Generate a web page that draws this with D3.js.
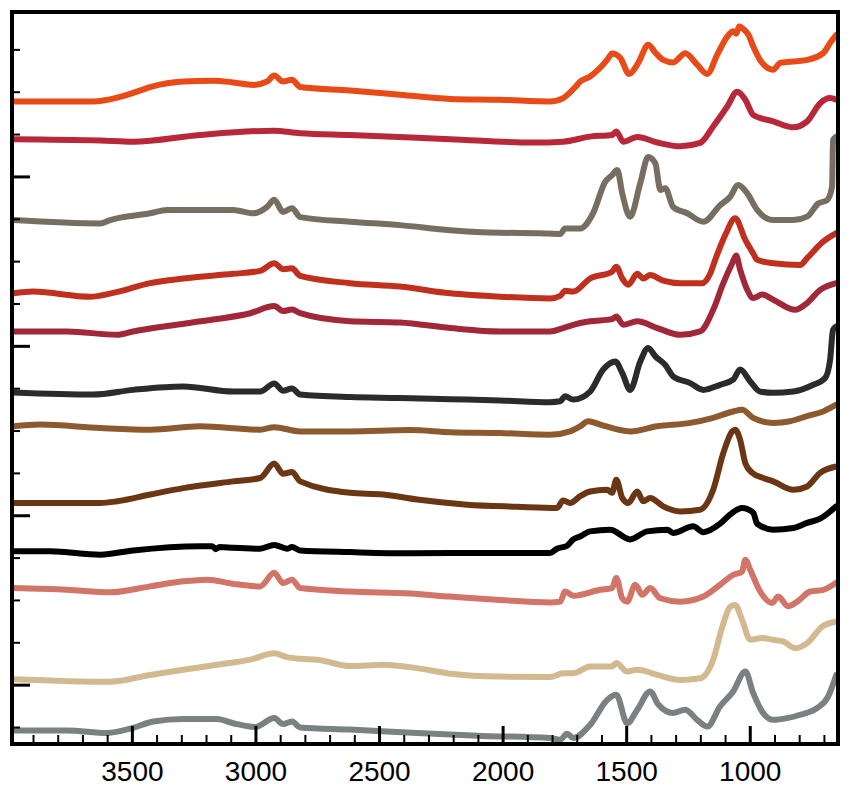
<!DOCTYPE html>
<html>
<head>
<meta charset="utf-8">
<script src="https://cdn.jsdelivr.net/npm/d3@7/dist/d3.min.js"></script>
<style>
body{margin:0;background:#fff}
svg{display:block}
</style>
</head>
<body>
<div id="chart"></div>
<script>
// stacked IR spectra, x = wavenumber (cm-1, reversed), y = absorbance + offset

const xLabelTicks=[3500,3000,2500,2000,1500,1000];
const xMinorTicks=[3900,3800,3700,3600,3400,3300,3200,3100,2900,2800,2700,2600,2400,2300,2200,2100,
  1900,1800,1700,1600,1400,1300,1200,1100,900,800,700];
const yMajorTicks=[0,0.4,0.8,1.2];
const yMinorTicks=[-0.1,0.1,0.2,0.3,0.5,0.6,0.7,0.9,1.0,1.1,1.3,1.4,1.5];

const offsets=[1.377,1.288,1.097,0.924,0.834,0.690,0.610,0.429,0.315,0.228,0.013,-0.108];
const colors=["#e84a18","#b8283a","#776e62","#c0301f","#a02839","#2b2b2b",
  "#8c5a2e","#6a3613","#000000","#d07568","#d3b98f","#7a8182"];

const spec1=[[3980,0],[3657,0],[3559,0.009],[3495,0.020],[3426,0.034],[3357,0.043],[3292,0.047],
  [3171,0.049],[3090,0.045],[3009,0.039],[2953,0.047],[2924,0.061],[2888,0.047],[2852,0.051],
  [2819,0.034],[2617,0.026],[2415,0.016],[2212,0.006],[2010,0.004],[1808,0],[1755,0.008],
  [1706,0.034],[1686,0.047],[1646,0.059],[1577,0.098],[1557,0.113],[1524,0.103],[1488,0.065],
  [1451,0.091],[1411,0.134],[1382,0.115],[1350,0.098],[1310,0.092],[1261,0.114],[1213,0.087],
  [1172,0.065],[1132,0.110],[1091,0.153],[1067,0.166],[1055,0.160],[1043,0.177],[1020,0.168],
  [1006,0.158],[986,0.130],[950,0.091],[905,0.075],[877,0.091],[768,0.098],[703,0.114],
  [675,0.138],[650,0.157]];

const spec2=[[3980,0],[3628,-0.003],[3495,-0.006],[3224,0.010],[2928,0.020],[2819,0.014],
  [2617,0.010],[2212,0],[1876,-0.008],[1755,-0.006],[1646,0.006],[1557,0.010],[1540,0.018],
  [1512,-0.006],[1455,0.005],[1374,-0.008],[1281,-0.017],[1201,-0.009],[1148,0.030],[1091,0.077],
  [1051,0.112],[1018,0.093],[986,0.057],[905,0.042],[824,0.028],[768,0.042],[715,0.085],
  [675,0.097],[650,0.093]];

const spec3=[[3980,0],[3628,-0.008],[3588,0],[3426,0.016],[3357,0.024],[3090,0.024],[3009,0.016],
  [2953,0.031],[2924,0.048],[2888,0.019],[2852,0.028],[2819,0.007],[2617,-0.004],[2415,-0.012],
  [2212,-0.024],[2010,-0.030],[1848,-0.031],[1767,-0.033],[1747,-0.020],[1686,-0.020],[1634,0.016],
  [1585,0.090],[1557,0.106],[1536,0.118],[1516,0.063],[1484,0.008],[1443,0.087],[1411,0.149],
  [1382,0.134],[1362,0.071],[1342,0.075],[1310,0.031],[1253,0.016],[1188,-0.004],[1120,0.035],
  [1079,0.055],[1047,0.083],[1010,0.063],[970,0.024],[905,0],[824,0],[768,0.008],[723,0.039],
  [687,0.047],[667,0.079],[663,0.189],[650,0.197]];

const spec4=[[3980,0],[3899,0.004],[3669,-0.008],[3576,0.001],[3426,0.024],[3292,0.035],[3090,0.046],
  [2981,0.053],[2924,0.071],[2888,0.057],[2852,0.059],[2819,0.041],[2617,0.024],[2415,0.016],
  [2212,0],[2010,-0.008],[1808,-0.012],[1767,-0.006],[1747,0.006],[1714,0.004],[1646,0.035],
  [1557,0.051],[1540,0.063],[1516,0.035],[1492,0.020],[1455,0.046],[1431,0.035],[1403,0.043],
  [1350,0.030],[1281,0.024],[1193,0.024],[1160,0.047],[1140,0.079],[1099,0.138],[1059,0.177],
  [1018,0.126],[986,0.094],[970,0.079],[905,0.071],[796,0.067],[768,0.083],[703,0.122],[650,0.142]];

const spec5=[[3980,0],[3762,0],[3559,-0.008],[3495,0],[3357,0.013],[3171,0.028],[3021,0.043],
  [2924,0.060],[2888,0.048],[2852,0.052],[2819,0.043],[2617,0.024],[2415,0.021],[2212,0.008],
  [2010,0],[1808,0],[1755,0.008],[1686,0.020],[1646,0.024],[1557,0.029],[1540,0.035],[1512,0.016],
  [1455,0.024],[1374,0.008],[1281,-0.008],[1201,0],[1148,0.051],[1107,0.114],[1071,0.161],
  [1055,0.179],[1039,0.146],[1010,0.098],[986,0.079],[950,0.087],[905,0.075],[816,0.051],
  [768,0.067],[715,0.098],[650,0.114]];

const spec6=[[3980,0],[3657,-0.005],[3495,0.006],[3292,0.014],[3090,0.002],[2981,0.002],[2924,0.021],
  [2888,0.004],[2852,0.009],[2819,-0.005],[2617,-0.011],[2415,-0.013],[2212,-0.016],[2010,-0.019],
  [1808,-0.023],[1767,-0.021],[1747,-0.009],[1714,-0.017],[1646,0.002],[1593,0.054],[1544,0.073],
  [1516,0.046],[1484,0.006],[1443,0.073],[1411,0.105],[1382,0.085],[1342,0.065],[1310,0.038],
  [1241,0.022],[1188,0.006],[1120,0.018],[1067,0.030],[1039,0.054],[998,0.026],[958,0.002],
  [905,-0.001],[824,0.002],[743,0.018],[695,0.034],[675,0.077],[663,0.148],[650,0.156]];

const spec7=[[3980,0],[3871,0.004],[3628,-0.004],[3426,-0.008],[3224,0],[2981,-0.008],[2924,-0.002],
  [2819,-0.012],[2617,-0.012],[2374,-0.009],[2212,-0.014],[2010,-0.016],[1808,-0.020],[1727,-0.012],
  [1686,0],[1654,0.012],[1605,0.004],[1484,-0.012],[1374,0],[1241,0.008],[1148,0.020],[1067,0.035],
  [1031,0.039],[986,0.020],[905,0.008],[837,0.012],[768,0.024],[703,0.035],[650,0.051]];

const spec8=[[3980,0],[3628,0],[3559,0.004],[3426,0.020],[3292,0.035],[3090,0.051],[2981,0.059],
  [2924,0.093],[2888,0.069],[2852,0.073],[2819,0.051],[2617,0.024],[2483,0.020],[2346,0.008],
  [2144,-0.004],[1941,-0.009],[1780,-0.012],[1755,0.006],[1727,0],[1686,0.016],[1646,0.027],
  [1577,0.031],[1557,0.024],[1540,0.055],[1516,0.012],[1492,0],[1455,0.027],[1431,0.004],
  [1403,0.012],[1350,-0.008],[1281,-0.020],[1201,-0.016],[1148,0.031],[1107,0.118],[1071,0.169],
  [1059,0.173],[1039,0.149],[1018,0.094],[990,0.071],[946,0.059],[905,0.051],[824,0.031],
  [768,0.039],[715,0.071],[650,0.086]];

const spec9=[[3980,0],[3830,0],[3628,-0.008],[3495,0.002],[3224,0.012],[3175,0.012],[3160,0.005],
  [3145,0.010],[3090,0.008],[2981,0.006],[2924,0.015],[2872,0.006],[2852,0.010],[2819,0.002],
  [2617,-0.002],[2374,-0.005],[2079,-0.004],[1808,-0.004],[1780,0.006],[1739,0.013],[1714,0.028],
  [1686,0.035],[1646,0.047],[1565,0.051],[1484,0.028],[1415,0.047],[1334,0.051],[1310,0.043],
  [1229,0.059],[1188,0.045],[1120,0.065],[1079,0.087],[1031,0.102],[986,0.091],[970,0.065],
  [905,0.051],[824,0.055],[768,0.067],[715,0.077],[650,0.106]];

const spec10=[[3980,0],[3762,-0.004],[3588,-0.010],[3426,0.004],[3292,0.016],[3195,0.020],[3090,0.010],
  [2981,0.004],[2924,0.036],[2888,0.012],[2852,0.020],[2819,0],[2617,-0.008],[2374,-0.013],
  [2212,-0.020],[2010,-0.028],[1808,-0.034],[1767,-0.032],[1747,-0.008],[1714,-0.018],[1605,-0.004],
  [1557,0],[1540,0.024],[1516,-0.024],[1496,-0.032],[1463,0.008],[1435,-0.016],[1403,0],
  [1362,-0.024],[1281,-0.032],[1188,-0.020],[1120,0.008],[1067,0.031],[1031,0.039],[1018,0.067],
  [998,0.043],[958,-0.008],[909,-0.035],[885,-0.020],[845,-0.043],[808,-0.032],[756,-0.008],
  [703,-0.004],[650,0.013]];

const spec11=[[3980,0],[3588,-0.006],[3426,0.010],[3292,0.022],[3155,0.034],[3021,0.046],[2924,0.061],
  [2872,0.052],[2819,0.048],[2750,0.046],[2617,0.031],[2483,0.034],[2346,0.026],[2212,0.013],
  [2010,0.006],[1808,0.005],[1755,0.014],[1714,0.014],[1646,0.030],[1557,0.030],[1540,0.038],
  [1496,0.018],[1455,0.022],[1374,0.010],[1281,-0.002],[1201,0.002],[1148,0.046],[1111,0.124],
  [1079,0.171],[1059,0.175],[1031,0.140],[998,0.093],[950,0.097],[905,0.093],[865,0.089],
  [816,0.073],[768,0.085],[707,0.124],[650,0.136]];

const spec12=[[3980,0],[3762,0],[3600,-0.006],[3495,0.006],[3414,0.021],[3292,0.027],[3155,0.027],
  [3090,0.017],[3001,0.008],[2924,0.029],[2888,0.015],[2852,0.021],[2819,0.007],[2617,0.002],
  [2346,-0.006],[2079,-0.013],[1808,-0.018],[1767,-0.022],[1739,-0.008],[1714,-0.018],[1646,0.013],
  [1577,0.072],[1540,0.084],[1496,0.017],[1455,0.049],[1403,0.092],[1370,0.061],[1310,0.041],
  [1261,0.049],[1213,0.025],[1172,0.009],[1120,0.057],[1067,0.092],[1018,0.139],[986,0.088],
  [946,0.041],[905,0.025],[849,0.029],[796,0.037],[727,0.053],[683,0.080],[650,0.131]];

const spectra=[spec1,spec2,spec3,spec4,spec5,spec6,spec7,spec8,spec9,spec10,spec11,spec12];

const W=854,H=798;
const plot={left:12,top:12,right:838,bottom:744};

const x=d3.scaleLinear().domain([3985,643]).range([plot.left,plot.right]);
const y=d3.scaleLinear().domain([-0.1401,1.5882]).range([plot.bottom,plot.top]);

const svg=d3.select("#chart").append("svg")
  .attr("width",W).attr("height",H)
  .style("font-family","'Liberation Sans', Arial, Helvetica, sans-serif");

svg.append("defs").append("clipPath").attr("id","plot-clip")
  .append("rect").attr("x",plot.left).attr("y",plot.top)
  .attr("width",plot.right-plot.left).attr("height",plot.bottom-plot.top);

// spectra
const line=d3.line().curve(d3.curveMonotoneX).x(d=>x(d[0]));
const gLines=svg.append("g").attr("clip-path","url(#plot-clip)");
spectra.forEach((s,i)=>{
  gLines.append("path")
    .datum(s)
    .attr("d",line.y(d=>y(d[1]+offsets[i])))
    .attr("fill","none")
    .attr("stroke",colors[i])
    .attr("stroke-width",6)
    .attr("stroke-linejoin","round")
    .attr("stroke-linecap","round");
});

// ticks point inward
function styleAxis(a,w){
  a.select(".domain").remove();
  a.selectAll(".tick line").attr("stroke","#000").attr("stroke-width",w);
}

svg.append("g").attr("transform",`translate(0,${plot.bottom})`)
  .call(d3.axisBottom(x).tickValues(xMinorTicks).tickSize(-9).tickFormat(""))
  .call(a=>styleAxis(a,2));

svg.append("g").attr("transform",`translate(0,${plot.bottom})`)
  .call(d3.axisBottom(x).tickValues(xLabelTicks).tickSize(-18).tickPadding(17).tickFormat(d3.format("d")))
  .call(a=>styleAxis(a,3))
  .call(a=>a.selectAll("text").attr("fill","#000")
    .style("font-size","28px").style("font-family","'Liberation Sans', Arial, Helvetica, sans-serif"));

svg.append("g").attr("transform",`translate(${plot.left},0)`)
  .call(d3.axisLeft(y).tickValues(yMinorTicks).tickSize(-8).tickFormat(""))
  .call(a=>styleAxis(a,2));

svg.append("g").attr("transform",`translate(${plot.left},0)`)
  .call(d3.axisLeft(y).tickValues(yMajorTicks).tickSize(-18).tickFormat(""))
  .call(a=>styleAxis(a,3));

// frame
svg.append("rect")
  .attr("x",plot.left).attr("y",plot.top)
  .attr("width",plot.right-plot.left).attr("height",plot.bottom-plot.top)
  .attr("fill","none").attr("stroke","#000").attr("stroke-width",4);
</script>
</body>
</html>
